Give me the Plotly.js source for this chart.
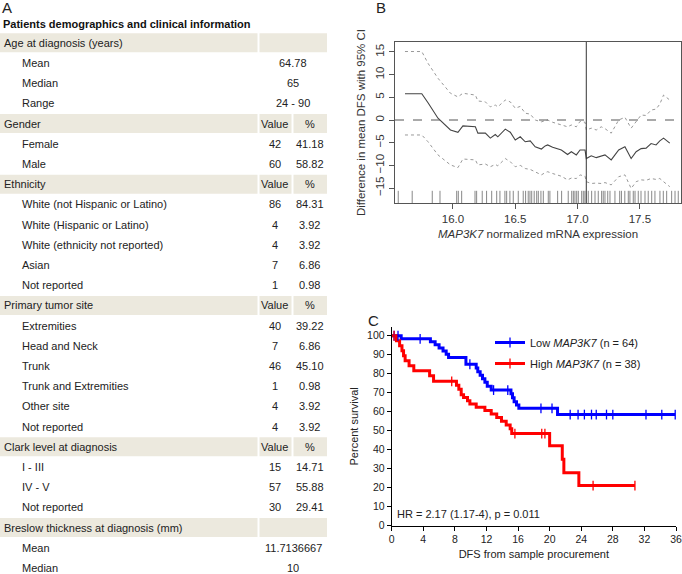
<!DOCTYPE html>
<html><head><meta charset="utf-8">
<script src="https://cdn.plot.ly/plotly-3.0.1.min.js"></script>
<style>html,body{margin:0;padding:0;background:#fff}</style>
</head><body><div id="chart" style="width:682px;height:574px"></div>
<script>
// ---------------- Panel A: table data ----------------
const rowLabels = ['Age at diagnosis (years)','Mean','Median','Range','Gender','Female','Male','Ethnicity',
  'White (not Hispanic or Latino)','White (Hispanic or Latino)','White (ethnicity not reported)','Asian','Not reported',
  'Primary tumor site','Extremities','Head and Neck','Trunk','Trunk and Extremities','Other site','Not reported',
  'Clark level at diagnosis','I - III','IV - V','Not reported','Breslow thickness at diagnosis (mm)','Mean','Median'];
const rowIsHeader = [1,0,0,0,1,0,0,1,0,0,0,0,0,1,0,0,0,0,0,0,1,0,0,0,1,0,0];
const rowValue = ['','64.78','65','24 - 90','Value','42','60','Value','86','4','4','7','1','Value','40','7','46','1','4','4','Value','15','57','30','','11.7136667','10'];
const rowPct   = ['','','','','%','41.18','58.82','%','84.31','3.92','3.92','6.86','0.98','%','39.22','6.86','45.10','0.98','3.92','3.92','%','14.71','55.88','29.41','','',''];
const tableTitle = 'Patients demographics and clinical information';

// ---------------- Panel B: running difference curve ----------------
const bX = [15.615,15.75,15.80,15.88,15.98,16.04,16.08,16.18,16.20,16.26,16.30,16.34,16.36,16.42,16.46,16.50,16.54,16.58,16.62,16.66,16.71,16.74,16.76,16.80,16.87,16.92,16.95,16.99,17.02,17.06,17.07,17.11,17.15,17.19,17.22,17.27,17.33,17.38,17.43,17.47,17.51,17.55,17.59,17.63,17.66,17.69,17.74];
const bMean = [5.8,5.8,3.8,0.4,-2.2,-2.7,-1.3,-1.5,-2.9,-2.9,-4.0,-3.2,-3.7,-2.0,-2.7,-4.4,-3.7,-4.8,-4.6,-5.9,-6.4,-5.7,-5.5,-6.0,-6.6,-7.6,-7.0,-7.7,-6.6,-6.6,-8.5,-7.9,-8.3,-7.9,-7.7,-8.8,-6.6,-5.9,-8.5,-7.0,-6.3,-6.2,-5.2,-5.5,-4.6,-4.0,-5.1];
const bUpper = [15.1,15.1,12.5,9.2,5.9,5.1,5.9,5.5,4.2,4.0,2.9,3.3,2.9,4.4,4.0,2.6,3.0,1.5,1.3,0.0,-0.4,-0.1,0.0,-0.5,-1.1,-1.5,-1.1,-1.5,-0.3,-0.5,-2.2,-1.8,-2.2,-1.5,-1.9,-2.9,0.0,0.6,-1.8,-0.4,1.1,1.0,2.2,2.4,3.5,5.5,4.4];
const bLower = [-3.3,-3.3,-4.8,-7.7,-9.9,-10.5,-8.6,-8.8,-9.9,-9.7,-10.3,-9.8,-10.1,-8.5,-9.2,-10.3,-10.0,-10.7,-10.9,-11.4,-12.1,-11.6,-11.4,-11.8,-12.4,-13.2,-12.8,-12.9,-12.1,-12.4,-13.6,-14.0,-13.9,-14.0,-13.8,-14.3,-12.5,-12.1,-15.1,-13.6,-13.2,-13.3,-12.9,-13.1,-12.9,-13.6,-14.7];
const rugX = [15.561,15.673,15.834,15.896,16.030,16.043,16.070,16.177,16.190,16.235,16.270,16.311,16.351,16.377,16.417,16.431,16.457,16.484,16.524,16.564,16.583,16.604,16.618,16.632,16.652,16.672,16.685,16.706,16.725,16.765,16.778,16.840,16.872,16.925,16.953,16.966,16.979,16.993,17.006,17.033,17.046,17.059,17.086,17.113,17.140,17.166,17.193,17.206,17.220,17.242,17.260,17.300,17.338,17.352,17.379,17.407,17.420,17.447,17.461,17.487,17.509,17.541,17.567,17.595,17.621,17.661,17.688,17.715,17.755,17.782,17.808];
const cutoff = 17.07;
const bTickVals = [16,16.5,17,17.5];
const bTickText = ['16.0','16.5','17.0','17.5'];
const bYTicks = [-15,-10,-5,0,5,10,15];

// ---------------- Panel C: Kaplan-Meier ----------------
const lowT = [0,1.2,4.9,5.5,6.0,6.5,6.9,7.2,9.4,10.7,10.9,11.2,11.5,11.8,12.1,12.6,15.1,15.3,15.5,15.8,16.1,21.0];
const lowS = [100,98.4,96.8,95.2,93.6,92.0,90.3,88.5,85.0,83.0,81.0,79.2,77.4,75.5,73.4,71.4,69.4,67.4,65.3,63.6,61.8,58.5];
const lowCens = [0.3,0.8,3.6,9.9,12.9,14.7,18.9,20.3,22.6,23.6,24.4,25.3,25.9,27.2,28.0,32.2,34.2,35.9];
const highT = [0,0.6,1.0,1.3,1.5,1.7,2.2,2.8,4.8,5.3,8.2,8.5,8.8,9.1,9.6,9.9,10.7,11.8,12.6,13.3,13.9,14.5,15.0,15.2,20.0,21.6,21.8,23.7];
const highS = [100,97.4,94.7,92.1,89.5,86.8,84.2,81.6,78.9,76.0,73.9,71.8,69.0,67.5,65.8,64.0,62.3,60.6,58.8,57.0,55.0,53.0,51.0,48.5,42.1,35.0,27.9,21.1];
const highCens = [0.3,7.6,15.6,19.0,19.4,25.5,30.8];
const lowName = 'Low <i>MAP3K7</i> (n = 64)';
const highName = 'High <i>MAP3K7</i> (n = 38)';
const hrText = 'HR = 2.17 (1.17-4), p = 0.011';

// ---------------- helpers ----------------
function stepAt(ts, ss, t){ let v = ss[0]; for(let i=0;i<ts.length;i++){ if(ts[i]<=t) v=ss[i]; } return v; }
function kmLine(ts, ss, cens){
  const all = ts.map((t,i)=>[t,ss[i]]).concat(cens.map(c=>[c,stepAt(ts,ss,c)]));
  all.sort((a,b)=>a[0]-b[0]);
  return {x: all.map(p=>p[0]), y: all.map(p=>p[1])};
}

const FONT = '"Liberation Sans", Arial, Helvetica, sans-serif';
const blue = 'rgb(0,0,255)', red = 'rgb(255,0,0)';
const traces = [];

// Panel B traces
traces.push({x:bX, y:bUpper, xaxis:'x', yaxis:'y', mode:'lines', line:{color:'#999', width:1, dash:'dot'}, showlegend:false, hoverinfo:'skip'});
traces.push({x:bX, y:bLower, xaxis:'x', yaxis:'y', mode:'lines', line:{color:'#999', width:1, dash:'dot'}, showlegend:false, hoverinfo:'skip'});
traces.push({x:bX, y:bMean, xaxis:'x', yaxis:'y', mode:'lines', line:{color:'#444', width:1.1}, showlegend:false, hoverinfo:'skip'});
traces.push({x:rugX, y:rugX.map(()=>-17), xaxis:'x', yaxis:'y', mode:'markers', marker:{symbol:'line-ns-open', size:9, color:'#888', line:{color:'#888', width:1}}, showlegend:false, hoverinfo:'skip'});

// Panel C traces
const lowL = kmLine(lowT, lowS, lowCens), highL = kmLine(highT, highS, highCens);
traces.push({x:lowL.x, y:lowL.y, xaxis:'x2', yaxis:'y2', mode:'lines', line:{color:blue, width:3, shape:'hv'}, showlegend:false, hoverinfo:'skip'});
traces.push({x:highL.x, y:highL.y, xaxis:'x2', yaxis:'y2', mode:'lines', line:{color:red, width:3, shape:'hv'}, showlegend:false, hoverinfo:'skip'});
traces.push({x:lowCens, y:lowCens.map(c=>stepAt(lowT,lowS,c)), xaxis:'x2', yaxis:'y2', mode:'markers', marker:{symbol:'line-ns-open', size:7, color:blue, line:{color:blue, width:1.3}}, showlegend:false, hoverinfo:'skip', cliponaxis:false});
traces.push({x:highCens, y:highCens.map(c=>stepAt(highT,highS,c)), xaxis:'x2', yaxis:'y2', mode:'markers', marker:{symbol:'line-ns-open', size:7, color:red, line:{color:red, width:1.3}}, showlegend:false, hoverinfo:'skip', cliponaxis:false});
// legend entries
traces.push({x:[null], y:[null], xaxis:'x2', yaxis:'y2', mode:'lines+markers', name:lowName, legendgroup:'low', line:{color:blue, width:3}, marker:{symbol:'line-ns-open', size:7, color:blue, line:{color:blue, width:1.3}}});
traces.push({x:[null], y:[null], xaxis:'x2', yaxis:'y2', mode:'lines+markers', name:highName, legendgroup:'high', line:{color:red, width:3}, marker:{symbol:'line-ns-open', size:7, color:red, line:{color:red, width:1.3}}});

// ---------------- Table shapes & annotations ----------------
const shapes = [], annotations = [];
const row0 = 33.3, pitch = 20.2, rowH = 19;
const beige = '#ece9de';
const colLabel = [0,257.5], colVal = [259.5,291.5], colPct = [293.5,327];
rowLabels.forEach((lab,i)=>{
  const top = row0 + i*pitch, mid = top + rowH/2;
  if(rowIsHeader[i]){
    shapes.push({type:'rect', xref:'x3', yref:'y3', x0:colLabel[0], x1:colLabel[1], y0:top, y1:top+rowH, fillcolor:beige, line:{width:0}, layer:'below'});
    if(rowValue[i]===''){
      shapes.push({type:'rect', xref:'x3', yref:'y3', x0:colVal[0], x1:colPct[1], y0:top, y1:top+rowH, fillcolor:beige, line:{width:0}, layer:'below'});
    } else {
      shapes.push({type:'rect', xref:'x3', yref:'y3', x0:colVal[0], x1:colVal[1], y0:top, y1:top+rowH, fillcolor:beige, line:{width:0}, layer:'below'});
      shapes.push({type:'rect', xref:'x3', yref:'y3', x0:colPct[0], x1:colPct[1], y0:top, y1:top+rowH, fillcolor:beige, line:{width:0}, layer:'below'});
    }
  }
  annotations.push({xref:'x3', yref:'y3', x: rowIsHeader[i]?2:20, y:mid, text:lab, showarrow:false, xanchor:'left', yanchor:'middle', font:{size:11, color:'#222'}});
  if(rowValue[i]!==''){
    if(rowPct[i]===''){
      annotations.push({xref:'x3', yref:'y3', x:(colVal[0]+colPct[1])/2, y:mid, text:rowValue[i], showarrow:false, xanchor:'center', yanchor:'middle', font:{size:11, color:'#222'}});
    } else {
      annotations.push({xref:'x3', yref:'y3', x:(colVal[0]+colVal[1])/2 - 1, y:mid, text:rowValue[i], showarrow:false, xanchor:'center', yanchor:'middle', font:{size:11, color:'#222'}});
      annotations.push({xref:'x3', yref:'y3', x:(colPct[0]+colPct[1])/2 - 0.5, y:mid, text:rowPct[i], showarrow:false, xanchor:'center', yanchor:'middle', font:{size:11, color:'#222'}});
    }
  }
});
annotations.push({xref:'x3', yref:'y3', x:1, y:23.5, text:'<b>'+tableTitle+'</b>', showarrow:false, xanchor:'left', yanchor:'middle', font:{size:11, color:'#111'}});
// panel letters
annotations.push({xref:'paper', yref:'paper', x:0, y:1-7/574, text:'A', showarrow:false, xanchor:'left', yanchor:'middle', font:{size:15, color:'#222'}});
annotations.push({xref:'paper', yref:'paper', x:374/682, y:1-7/574, text:'B', showarrow:false, xanchor:'left', yanchor:'middle', font:{size:15, color:'#222'}});
annotations.push({xref:'paper', yref:'paper', x:366/682, y:1-320/574, text:'C', showarrow:false, xanchor:'left', yanchor:'middle', font:{size:15, color:'#222'}});
// HR text
annotations.push({xref:'paper', yref:'paper', x:395/682, y:1-514/574, text:hrText, showarrow:false, xanchor:'left', yanchor:'middle', font:{size:11, color:'#222'}});

// Panel B reference lines
shapes.push({type:'line', xref:'x', yref:'y domain', x0:cutoff, x1:cutoff, y0:0, y1:1, line:{color:'#333', width:1}});
shapes.push({type:'line', xref:'x domain', yref:'y', x0:0, x1:1, y0:0, y1:0, line:{color:'#555', width:1, dash:'dash'}});

const layout = {
  width:682, height:574, margin:{l:0,r:0,t:0,b:0}, paper_bgcolor:'#fff', plot_bgcolor:'rgba(0,0,0,0)',
  font:{family:FONT, size:11, color:'#222'},
  showlegend:true,
  legend:{x:490/682, y:1-328/574, xanchor:'left', yanchor:'top', font:{size:11, color:'#222'}, bgcolor:'rgba(0,0,0,0)', itemwidth:30, tracegroupgap:2, traceorder:'grouped'},
  xaxis:{domain:[395/682, 681/682], anchor:'y', range:[15.535,17.83], tickvals:bTickVals, ticktext:bTickText, ticks:'outside', ticklen:5, tickcolor:'#555', showline:true, mirror:true, linecolor:'#555', linewidth:1, showgrid:false, zeroline:false, tickfont:{size:11.5, color:'#333'},
    title:{text:'<i>MAP3K7</i> normalized mRNA expression', font:{size:11.5, color:'#333'}, standoff:6}},
  yaxis:{domain:[1-203/574, 1-42/574], anchor:'x', range:[-18.3,17.2], tickvals:bYTicks, tickangle:-90, ticks:'outside', ticklen:5, tickcolor:'#555', showline:true, mirror:true, linecolor:'#555', linewidth:1, showgrid:false, zeroline:false, tickfont:{size:11.5, color:'#333'},
    title:{text:'Difference in mean DFS with 95% CI', font:{size:11.5, color:'#333'}, standoff:6}},
  xaxis2:{domain:[391.7/682, 676/682], anchor:'y2', range:[0,36], tick0:0, dtick:4, ticks:'outside', ticklen:4, tickcolor:'#000', showline:true, linecolor:'#000', linewidth:1, showgrid:false, zeroline:false, tickfont:{size:10.5, color:'#222'},
    title:{text:'DFS from sample procurement', font:{size:11, color:'#222'}, standoff:6}},
  yaxis2:{domain:[1-525.7/574, 1-327/574], anchor:'x2', range:[0,104.6], tick0:0, dtick:10, ticks:'outside', ticklen:4, tickcolor:'#000', showline:true, linecolor:'#000', linewidth:1, showgrid:false, zeroline:false, tickfont:{size:10.5, color:'#222'},
    title:{text:'Percent survival', font:{size:11, color:'#222'}, standoff:6}},
  xaxis3:{domain:[0, 341/682], range:[0,341], visible:false, fixedrange:true},
  yaxis3:{domain:[0,1], range:[574,0], visible:false, fixedrange:true, anchor:'x3'},
  shapes:shapes, annotations:annotations
};
Plotly.newPlot('chart', traces, layout, {staticPlot:true, displayModeBar:false});
</script></body></html>
